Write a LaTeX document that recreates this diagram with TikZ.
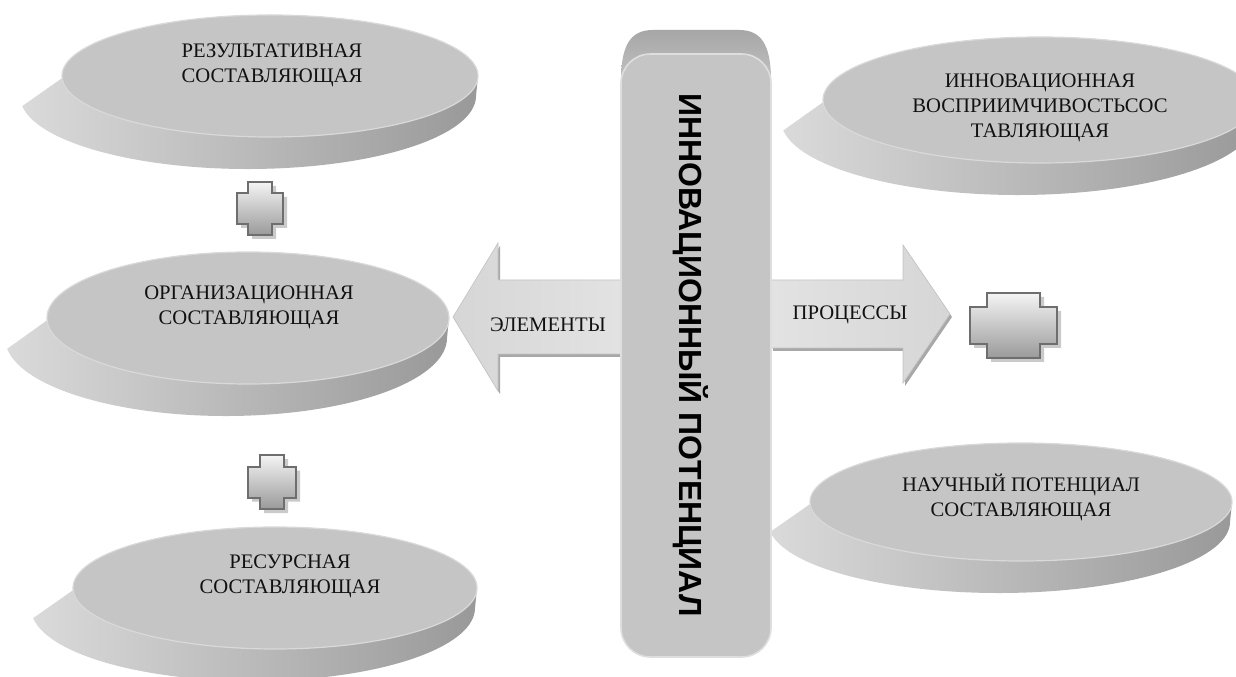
\documentclass[tikz,border=0pt]{standalone}
\usepackage{fontspec}
\setmainfont{Liberation Serif}
\newfontfamily\titlefont{Liberation Sans}

\definecolor{facegray}{HTML}{C5C5C5}
\definecolor{faceedge}{HTML}{D9D9D9}
\definecolor{sidelight}{HTML}{DADADA}
\definecolor{sidemid}{HTML}{ADADAD}
\definecolor{sidedark}{HTML}{999999}
\definecolor{txt}{HTML}{111111}
\definecolor{crossline}{HTML}{6E6E6E}
\definecolor{crosstop}{HTML}{F4F4F4}
\definecolor{crossbot}{HTML}{9A9A9A}
\definecolor{crossshadow}{HTML}{CACACA}
\definecolor{arrowlight}{HTML}{F7F7F7}
\definecolor{arrowgray}{HTML}{D6D6D6}
\definecolor{arrowedge}{HTML}{C4C4C4}
\definecolor{arrowshadow}{HTML}{A8A8A8}
\definecolor{bevtop}{HTML}{A6A6A6}
\definecolor{bevbot}{HTML}{D2D2D2}
\definecolor{baredge}{HTML}{DEDEDE}

% a flat disc: side band (lower, wider ellipse) under a flat top face
% #1 node name, #2 cx, #3 cy, #4 rx, #5 ry, #6 text position, #7 text
\newcommand\disc[7]{%
  \pgfmathsetmacro\dBx{#2-22}%
  \pgfmathsetmacro\dBy{#3+20}%
  \pgfmathsetmacro\dBrx{#4+20}%
  \pgfmathsetmacro\dBry{#5+12}%
  \shade[left color=sidelight, middle color=sidemid, right color=sidedark]
    ({#2+#4*cos(178)},{#3+#5*sin(178)})
    -- ({\dBx+\dBrx*cos(172)},{\dBy+\dBry*sin(172)})
    arc[start angle=172, end angle=0, x radius=\dBrx, y radius=\dBry]
    -- ({#2+#4},#3)
    arc[start angle=0, end angle=-182, x radius=#4, y radius=#5]
    -- cycle;
  \filldraw[fill=facegray, draw=faceedge, line width=0.9pt]
    (#2,#3) ellipse[x radius=#4, y radius=#5];
  \node[disctext] (#1) at (#6) {#7};
}

% a bevelled plus sign
% #1 cx, #2 cy, #3 half width of vertical arm, #4 half height,
% #5 half width, #6 half height of horizontal arm
\newcommand\plusmark[6]{%
  \fill[crossshadow, shift={(4,4)}]
    ({#1-#3},{#2-#4}) -- ({#1+#3},{#2-#4}) -- ({#1+#3},{#2-#6}) -- ({#1+#5},{#2-#6})
    -- ({#1+#5},{#2+#6}) -- ({#1+#3},{#2+#6}) -- ({#1+#3},{#2+#4}) -- ({#1-#3},{#2+#4})
    -- ({#1-#3},{#2+#6}) -- ({#1-#5},{#2+#6}) -- ({#1-#5},{#2-#6}) -- ({#1-#3},{#2-#6}) -- cycle;
  \path[crossshape]
    ({#1-#3},{#2-#4}) -- ({#1+#3},{#2-#4}) -- ({#1+#3},{#2-#6}) -- ({#1+#5},{#2-#6})
    -- ({#1+#5},{#2+#6}) -- ({#1+#3},{#2+#6}) -- ({#1+#3},{#2+#4}) -- ({#1-#3},{#2+#4})
    -- ({#1-#3},{#2+#6}) -- ({#1-#5},{#2+#6}) -- ({#1-#5},{#2-#6}) -- ({#1-#3},{#2-#6}) -- cycle;
}

\begin{document}
\begin{tikzpicture}[x=0.75pt, y=-0.75pt,
  disctext/.style={font=\fontsize{15.5}{18.75}\selectfont, text=txt, align=center, inner sep=0pt},
  arrowtext/.style={font=\fontsize{15.5}{18.75}\selectfont, text=txt, inner sep=0pt},
  crossshape/.style={draw=crossline, line width=1.5pt, top color=crosstop, bottom color=crossbot},
  titletext/.style={font=\titlefont\bfseries\fontsize{24}{24}\selectfont, text=black, rotate=-90, inner sep=0pt}]

\useasboundingbox (0,0) rectangle (1236,677);
\fill[white] (0,0) rectangle (1236,677);
\clip (0,0) rectangle (1236,677);

% left column of discs
\disc{result}{270}{76}{208}{61}{272,65}{РЕЗУЛЬТАТИВНАЯ\\СОСТАВЛЯЮЩАЯ}
\disc{organ}{248}{318}{201}{66}{249,307}{ОРГАНИЗАЦИОННАЯ\\СОСТАВЛЯЮЩАЯ}
\disc{resource}{275}{588}{202}{61}{290,576}{РЕСУРСНАЯ\\СОСТАВЛЯЮЩАЯ}

% right column of discs
\disc{receptive}{1040}{100}{217}{63}{1040,108}{ИННОВАЦИОННАЯ\\ВОСПРИИМЧИВОСТЬСОС\\ТАВЛЯЮЩАЯ}
\disc{science}{1021}{502}{211}{59}{1021,497}{НАУЧНЫЙ ПОТЕНЦИАЛ\\СОСТАВЛЯЮЩАЯ}

% plus signs
\plusmark{260}{208.5}{12}{26.5}{23}{15.5}
\plusmark{272}{482}{12}{27}{24}{15.5}
\plusmark{1013.5}{325.5}{26.5}{32.5}{43.5}{18.5}

% block arrows
\fill[arrowshadow, shift={(2,3)}]
  (621,280) -- (498,280) -- (498,243) -- (453,317) -- (498,391) -- (498,354) -- (621,354) -- cycle;
\shade[left color=arrowgray, middle color=arrowlight, right color=arrowgray!70!white, draw=arrowedge, line width=0.5pt]
  (621,280) -- (498,280) -- (498,243) -- (453,317) -- (498,391) -- (498,354) -- (621,354) -- cycle;
\node[arrowtext] (elements) at (548,325) {ЭЛЕМЕНТЫ};

\fill[arrowshadow, shift={(2,3)}]
  (771,280) -- (903,280) -- (903,245) -- (950,314) -- (903,383) -- (903,348) -- (771,348) -- cycle;
\shade[left color=arrowgray!70!white, middle color=arrowlight, right color=arrowgray, draw=arrowedge, line width=0.5pt]
  (771,280) -- (903,280) -- (903,245) -- (950,314) -- (903,383) -- (903,348) -- (771,348) -- cycle;
\node[arrowtext] (processes) at (850,315) {ПРОЦЕССЫ};

% central bar: bevelled top and front face
\shade[top color=bevtop, bottom color=bevbot]
  (621,110) -- (621,76) .. controls (622,46) and (630,30) .. (653,30)
  -- (739,30) .. controls (762,30) and (770,46) .. (771,76) -- (771,110) -- cycle;
\filldraw[fill=facegray, draw=baredge, line width=1.2pt, rounded corners=22]
  (621,54) rectangle (771,657);
\node[titletext] (title) at (691,355) {ИННОВАЦИОННЫЙ ПОТЕНЦИАЛ};

\end{tikzpicture}
\end{document}
